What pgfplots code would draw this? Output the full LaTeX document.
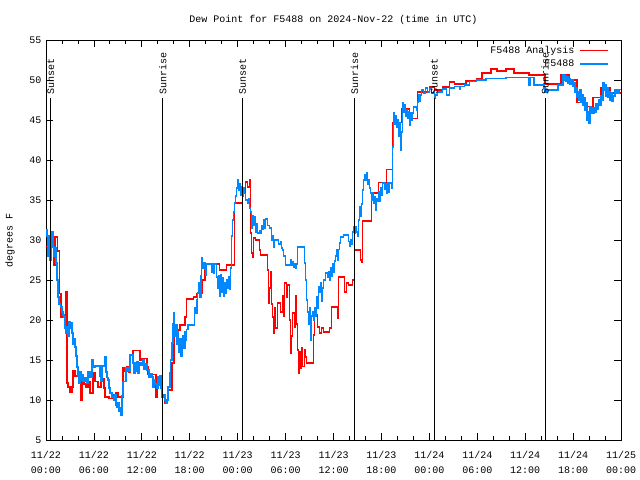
\documentclass[border=0pt]{standalone}
\usepackage{fontspec}
\setmainfont{Liberation Mono}
\setmonofont{Liberation Mono}
\usepackage{pgfplots}
\pgfplotsset{compat=1.18}
\definecolor{sred}{RGB}{255,0,0}
\definecolor{sblue}{RGB}{0,136,255}
\begin{document}
\begin{tikzpicture}[font=\fontsize{10bp}{14bp}\selectfont]
\path[use as bounding box] (-46bp,-40bp) rectangle (594bp,440bp);
\fill[white] (-46bp,-40bp) rectangle (594bp,440bp);
\begin{axis}[
  scale only axis, width=575bp, height=400bp,
  xmin=0, xmax=72, ymin=5, ymax=55,
  axis line style={line width=0.8bp},
  xtick={0,6,...,72},
  xticklabels={11/22\\00:00,11/22\\06:00,11/22\\12:00,11/22\\18:00,11/23\\00:00,11/23\\06:00,11/23\\12:00,11/23\\18:00,11/24\\00:00,11/24\\06:00,11/24\\12:00,11/24\\18:00,11/25\\00:00},
  minor x tick num=2,
  ytick={5,10,...,55},
  tick align=inside,
  major tick length=7bp, minor tick length=4bp,
  tick style={black, line width=0.8bp},
  /pgf/number format/assume math mode=true,
  xticklabel style={align=center, yshift=-8bp, font=\fontsize{10bp}{15bp}\selectfont},
  yticklabel style={xshift=-1bp},
  title={Dew Point for F5488 on 2024-Nov-22 (time in UTC)},
  title style={at={(0.5,1)}, anchor=base, yshift=12bp},
  ylabel={degrees F},
  ylabel style={at={(axis description cs:-0.0626,0.5)}, anchor=center},
  legend style={at={(1,1)}, anchor=north east, xshift=-9bp, yshift=-2bp, draw=none, fill=none, row sep=1bp, column sep=3bp, nodes={inner sep=2bp}},
  legend cell align=right,
  legend plot pos=right,
  legend image code/.code={\draw[#1] (0bp,0bp) -- (28bp,0bp);},
]
\addplot[const plot, draw=sred, line width=1.5bp] coordinates {
(0,29.2)(1.0,26.9)(1.12,30.4)(1.44,28.6)(1.69,23.3)(1.88,20.4)(2.5,23.5)(2.62,12.1)(2.75,11.6)(3.0,11.0)(3.25,11.6)(3.38,13.7)(3.62,13.0)(4.0,13.5)(4.25,12.5)(4.38,10.0)(4.5,12.4)(4.75,12.0)(5.0,11.6)(5.25,12.3)(5.5,10.9)(5.88,13.4)(6.12,12.3)(6.5,11.6)(6.88,12.7)(7.25,11.5)(7.38,10.4)(7.88,10.2)(8.38,10.6)(8.75,10.9)(9.0,10.4)(9.62,14.0)(9.88,13.6)(10.12,14.1)(10.38,13.5)(10.5,15.6)(10.88,16.2)(11.75,15.0)(12.0,15.2)(12.62,14.1)(12.75,13.2)(13.75,10.4)(13.94,12.7)(14.5,10.4)(14.88,9.6)(15.19,11.25)(15.75,14.6)(16.0,18.75)(16.75,19.4)(17.38,20.4)(17.62,22.6)(18.5,22.9)(18.88,23.3)(19.62,25.0)(19.88,26.9)(20.12,27.0)(21.75,26.25)(22.62,26.9)(23.62,34.6)(24.62,35.9)(25.0,37.25)(25.25,36.6)(25.5,37.5)(25.62,30.9)(25.75,28.4)(25.88,27.8)(26.0,30.25)(26.25,30.0)(26.75,28.75)(26.88,28.1)(27.75,26.25)(27.88,22.1)(28.0,24.0)(28.12,26.0)(28.25,22.0)(28.38,20.4)(28.5,18.4)(28.62,21.5)(28.75,19.0)(29.0,22.1)(29.38,21.0)(29.62,23.0)(29.75,20.5)(29.88,24.6)(30.12,22.9)(30.25,24.4)(30.5,20.0)(30.62,15.9)(30.75,18.0)(30.88,20.9)(31.12,19.1)(31.25,23.0)(31.38,19.5)(31.5,16.25)(31.62,13.4)(31.75,16.0)(31.88,14.0)(32.0,16.5)(32.12,14.2)(32.38,16.3)(32.5,15.4)(32.62,14.6)(33.5,18.1)(33.62,20.6)(34.0,19.1)(34.25,18.4)(34.5,19.0)(34.75,18.5)(35.5,19.0)(35.75,21.6)(36.5,20.2)(36.62,25.4)(37.38,23.5)(37.62,24.6)(37.88,24.4)(38.38,25.0)(38.62,28.75)(39.38,27.5)(39.5,27.2)(39.62,32.4)(40.75,35.9)(41.62,37.2)(42.62,38.8)(43.38,44.7)(44.5,46.4)(45.5,45.2)(46.5,48.5)(48.0,49.1)(48.62,48.75)(49.62,49.1)(50.5,49.75)(51.12,49.5)(52.62,49.9)(53.88,50.2)(54.62,50.9)(55.75,51.4)(56.5,51.1)(57.62,51.4)(58.62,50.9)(60.5,50.6)(62.5,49.5)(64.5,50.6)(65.5,50.0)(66.5,47.2)(67.62,46.7)(68.5,47.8)(69.5,49.0)(70.62,48.4)(72,48.4)
};
\addlegendentry{F5488 Analysis}
\addplot[const plot, draw=sblue, line width=1.5bp] coordinates {
(0,31.3)(0.12,30.5)(0.25,28.0)(0.38,30.5)(0.5,27.5)(0.62,29.5)(0.75,31.0)(0.88,29.1)(1.0,28.0)(1.12,29.0)(1.25,27.1)(1.38,25.0)(1.5,22.9)(1.62,22.0)(1.81,21.6)(2.0,21.0)(2.12,20.6)(2.25,20.4)(2.38,19.0)(2.5,18.4)(2.62,19.2)(2.75,18.0)(2.88,19.8)(3.0,19.0)(3.12,19.6)(3.25,18.4)(3.38,17.0)(3.5,17.6)(3.62,16.6)(3.75,15.5)(3.88,14.1)(4.0,13.0)(4.12,12.1)(4.25,13.5)(4.38,12.5)(4.5,13.2)(4.62,12.3)(4.88,12.8)(5.12,12.1)(5.25,13.5)(5.5,12.9)(5.75,15.0)(5.88,14.1)(6.12,14.25)(6.75,13.0)(6.88,12.3)(7.0,14.25)(7.38,15.4)(7.5,13.5)(7.62,12.8)(7.75,12.5)(7.88,11.5)(8.0,10.9)(8.25,10.4)(8.5,10.0)(8.62,10.6)(8.75,9.4)(8.88,9.1)(9.0,9.6)(9.12,8.6)(9.25,9.0)(9.38,8.1)(9.5,10.5)(9.62,12.3)(10.0,14.0)(10.25,13.6)(10.5,15.6)(10.88,14.6)(11.0,13.4)(11.12,14.6)(11.25,13.6)(11.38,14.8)(11.5,13.4)(11.62,14.6)(11.88,14.3)(12.12,15.0)(12.25,13.8)(12.38,14.5)(12.62,13.75)(12.88,12.9)(13.12,13.3)(13.25,12.9)(13.38,11.6)(13.5,12.5)(13.62,12.0)(13.88,11.5)(14.0,12.9)(14.12,11.9)(14.25,13.0)(14.38,11.5)(14.5,10.4)(14.75,10.7)(14.88,10.0)(15.0,9.6)(15.12,10.0)(15.25,11.6)(15.5,13.4)(15.62,15.0)(15.75,17.1)(15.88,19.5)(16.0,20.9)(16.12,18.0)(16.25,19.4)(16.38,17.0)(16.5,18.5)(16.62,16.0)(16.75,17.6)(16.88,15.5)(17.0,16.8)(17.12,18.0)(17.25,16.5)(17.38,18.5)(17.5,17.5)(17.62,18.8)(17.75,19.4)(18.5,19.4)(18.62,21.5)(18.75,20.9)(18.88,22.5)(19.0,23.4)(19.12,24.6)(19.25,22.8)(19.38,25.5)(19.5,27.75)(19.62,26.5)(19.75,27.2)(19.88,26.3)(20.0,25.6)(20.12,27.0)(20.5,27.0)(20.75,26.0)(20.88,27.0)(21.0,25.8)(21.12,27.0)(21.38,25.4)(21.5,24.0)(21.62,25.5)(21.75,23.0)(21.88,25.6)(22.0,23.5)(22.12,25.3)(22.25,23.0)(22.38,24.6)(22.5,23.4)(22.62,25.0)(22.75,24.0)(22.88,25.4)(23.0,23.8)(23.12,26.5)(23.25,30.5)(23.38,32.5)(23.5,33.5)(23.62,34.6)(23.75,35.5)(23.88,36.5)(24.0,37.5)(24.12,36.25)(24.25,37.0)(24.38,35.6)(24.5,36.6)(24.62,35.5)(24.75,36.5)(24.88,35.8)(25.0,35.0)(25.25,34.6)(25.38,35.2)(25.5,34.0)(25.62,33.5)(25.75,31.5)(25.88,33.0)(26.0,31.8)(26.12,32.9)(26.25,31.0)(26.38,32.0)(26.5,30.9)(26.75,31.2)(26.88,30.9)(27.0,31.8)(27.12,31.3)(27.25,32.5)(27.38,31.5)(27.5,32.6)(27.75,31.8)(28.0,31.5)(28.25,30.0)(28.38,30.5)(28.5,29.1)(28.62,30.0)(28.88,30.0)(29.12,29.5)(29.38,29.8)(29.5,29.0)(29.62,28.75)(29.75,28.0)(30.0,26.9)(30.62,27.5)(30.75,26.9)(30.88,27.3)(31.0,26.6)(31.12,27.0)(31.25,26.5)(31.38,27.0)(31.5,29.1)(32.38,27.1)(32.5,25.0)(32.62,22.5)(32.75,21.0)(32.88,19.5)(33.0,21.5)(33.12,17.5)(33.25,20.5)(33.38,21.0)(33.5,20.0)(33.62,21.5)(33.75,20.5)(33.88,22.9)(34.0,21.5)(34.12,24.2)(34.25,23.5)(34.38,24.6)(34.5,22.4)(34.62,24.0)(34.75,25.0)(35.0,25.9)(35.25,25.3)(35.38,26.0)(35.5,25.0)(35.62,26.5)(35.75,25.5)(35.88,27.0)(36.0,26.0)(36.12,27.4)(36.25,28.0)(36.38,28.75)(36.5,27.5)(36.62,28.8)(36.75,29.6)(36.88,30.4)(37.25,30.6)(37.88,29.8)(38.0,29.2)(38.12,30.0)(38.25,29.5)(38.38,31.0)(38.5,31.6)(38.62,30.9)(38.75,31.6)(38.88,31.0)(39.0,30.5)(39.12,32.5)(39.25,34.1)(39.38,33.0)(39.5,34.5)(39.62,36.25)(39.75,37.5)(39.88,38.1)(40.0,37.5)(40.12,38.4)(40.25,37.0)(40.38,37.5)(40.5,36.5)(40.62,35.9)(40.75,35.0)(40.88,35.9)(41.0,34.6)(41.12,35.4)(41.25,33.75)(41.38,35.2)(41.5,34.8)(41.62,36.0)(41.75,34.9)(41.88,36.5)(42.0,35.6)(42.12,37.1)(42.38,36.4)(42.5,37.0)(42.62,35.9)(42.75,37.1)(42.88,36.0)(43.0,37.1)(43.25,36.5)(43.38,41.6)(43.5,45.9)(43.62,44.5)(43.75,45.5)(43.88,44.1)(44.0,45.0)(44.12,43.0)(44.25,44.6)(44.38,41.25)(44.5,43.5)(44.62,47.1)(44.75,46.0)(44.88,46.9)(45.0,45.5)(45.12,46.3)(45.25,45.2)(45.38,46.0)(45.5,44.4)(45.62,45.9)(45.75,45.0)(45.88,45.9)(46.0,46.6)(46.38,46.25)(46.5,47.25)(46.62,48.1)(46.75,47.4)(46.88,48.1)(47.0,48.75)(47.25,48.4)(47.5,49.0)(47.75,48.5)(48.0,48.9)(48.25,48.4)(48.5,48.5)(48.62,47.75)(48.75,48.1)(49.0,48.5)(49.25,48.5)(49.62,48.9)(50.12,48.1)(50.5,49.0)(51.12,49.2)(51.75,48.8)(51.88,49.2)(52.38,49.4)(53.0,49.8)(53.88,50.0)(55.12,50.2)(57.62,50.3)(60.5,49.4)(60.62,50.3)(61.12,49.4)(62.38,49.0)(62.5,48.5)(62.75,48.75)(64.12,49.4)(64.75,50.6)(64.88,50.0)(65.0,50.5)(65.12,49.8)(65.25,50.4)(65.38,49.6)(65.5,50.2)(65.62,49.5)(65.75,50.0)(66.0,49.2)(66.12,49.6)(66.25,48.5)(66.38,49.0)(66.5,47.8)(66.62,48.5)(66.75,47.5)(66.88,48.75)(67.0,47.2)(67.12,48.2)(67.25,46.8)(67.38,47.8)(67.5,46.2)(67.62,47.1)(67.75,45.0)(67.88,46.0)(68.0,44.6)(68.12,46.7)(68.25,45.9)(68.38,46.5)(68.5,45.9)(68.62,46.5)(68.75,46.0)(68.88,47.0)(69.0,46.3)(69.12,47.0)(69.25,47.5)(69.38,46.9)(69.5,48.0)(69.62,47.5)(69.75,49.6)(69.88,48.75)(70.0,49.4)(70.12,48.0)(70.25,49.0)(70.38,47.8)(70.5,48.5)(70.62,47.5)(70.75,48.4)(70.88,47.3)(71.0,48.0)(71.25,48.8)(71.5,48.4)(71.75,48.8)(72,48.8)
};
\addlegendentry{F5488}
\addplot[black, line width=1bp, forget plot] coordinates {(0.62,5)(0.62,47.75)};
\addplot[black, line width=1bp, forget plot] coordinates {(14.62,5)(14.62,47.75)};
\addplot[black, line width=1bp, forget plot] coordinates {(24.62,5)(24.62,47.75)};
\addplot[black, line width=1bp, forget plot] coordinates {(38.62,5)(38.62,47.75)};
\addplot[black, line width=1bp, forget plot] coordinates {(48.62,5)(48.62,47.75)};
\addplot[black, line width=1bp, forget plot] coordinates {(62.5,5)(62.5,47.75)};
\node[rotate=90, anchor=west, inner sep=3bp] at (axis cs:0.62,47.75) {Sunset};
\node[rotate=90, anchor=west, inner sep=3bp] at (axis cs:14.62,47.75) {Sunrise};
\node[rotate=90, anchor=west, inner sep=3bp] at (axis cs:24.62,47.75) {Sunset};
\node[rotate=90, anchor=west, inner sep=3bp] at (axis cs:38.62,47.75) {Sunrise};
\node[rotate=90, anchor=west, inner sep=3bp] at (axis cs:48.62,47.75) {Sunset};
\node[rotate=90, anchor=west, inner sep=3bp] at (axis cs:62.5,47.75) {Sunrise};
\end{axis}
\end{tikzpicture}
\end{document}
